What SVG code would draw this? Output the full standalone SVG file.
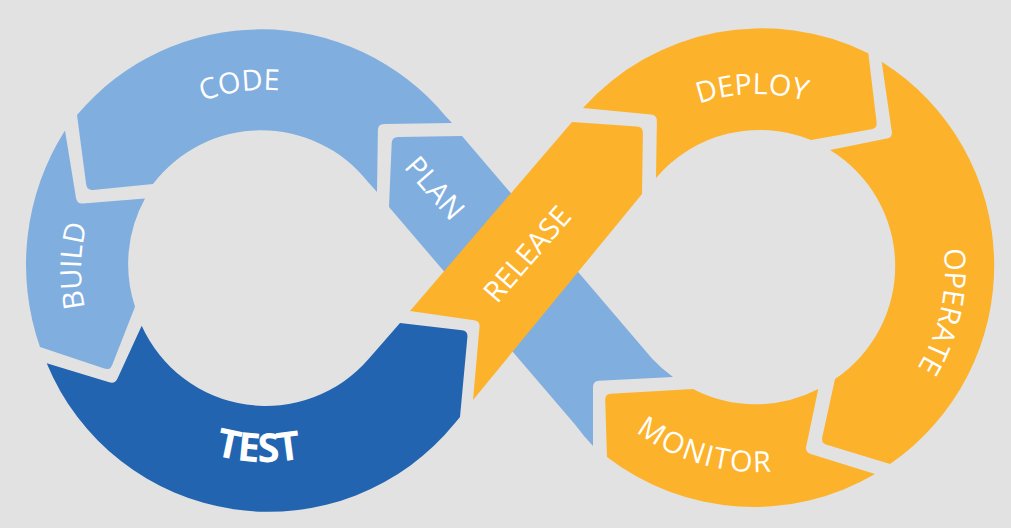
<svg xmlns="http://www.w3.org/2000/svg" width="1011" height="528" viewBox="0 0 1011 528">
<style>
.lb{fill:#80AEDF}
.db{fill:#2264B0}
.or{fill:#FDB22B}
.lbl{font-family:'Open Sans','DejaVu Sans',sans-serif;font-size:29px;fill:#ffffff}
.big{font-family:'Open Sans','DejaVu Sans',sans-serif;font-size:40px;font-weight:700;fill:#ffffff;letter-spacing:-1px}
</style>
<defs>
<path id="codeArc" d="M85,270 A180,180 0 0 1 445,270"/>
<path id="buildArc" d="M265,454 A184,184 0 0 1 265,86"/>
<path id="testArc" d="M73,270 A192,192 0 0 0 457,270"/>
<path id="deployArc" d="M581,270 A176,176 0 0 1 933,270"/>
<path id="operateArc" d="M757,82 A188,188 0 0 1 757,458"/>
<path id="monitorArc" d="M555,270 A202,202 0 0 0 959,270"/>
</defs>
<rect x="0" y="0" width="1011" height="528" fill="#E2E2E2"/>
<g id="plan">
<path class="lb" d="M389,207 L575,424.5 A240,240 0 0 0 593,446 L593,387 Q593,381 599,380.7 L673,377 A136,136 0 0 1 652,358.5 L462,136 L398,136.9 Q392,137 391.7,143 Z"/>
<text class="lbl" transform="translate(435,188) rotate(49)" text-anchor="middle" y="10.4">PLAN</text>
</g>
<g id="code">
<path class="lb" d="M452,123 L445,115.5 A240,240 0 0 0 77,115 L86.2,184.5 Q87,190.5 93,189.9 L153,184 A136,136 0 0 1 368,182 L377,192 L377.9,130 Q378,124 384,123.9 Z"/>
<text class="lbl" text-anchor="middle"><textPath href="#codeArc" startOffset="258">CODE</textPath></text>
</g>
<g id="build">
<path class="lb" d="M65,130.5 A250,250 0 0 0 40,347 L104.3,368.6 Q110,370.5 112.2,364.9 L135,306.7 A136,136 0 0 1 145,198.5 L83,203.5 Q77,204 76,198 Z"/>
<text class="lbl" text-anchor="middle"><textPath href="#buildArc" startOffset="293">BUILD</textPath></text>
</g>
<g id="test">
<path class="db" d="M46.7,363.3 A240,240 0 0 0 455,423 L460,417 L467.4,337 Q468,331 462,330.3 L400,323 L369,358.5 A136,136 0 0 1 141.7,325.7 L117.5,378.5 Q115,384 109.3,382.3 Z"/>
<text class="big" text-anchor="middle"><textPath href="#testArc" startOffset="294">TEST</textPath></text>
</g>
<g id="release">
<path class="or" d="M410,311 L572,122 L637,126.6 Q643,127 642.9,133 L642,194 L473,400 L479.5,327 Q480,321 474.1,320.2 Z"/>
<text class="lbl" transform="translate(527,254) rotate(-49)" text-anchor="middle" y="10.4">RELEASE</text>
</g>
<g id="deploy">
<path class="or" d="M583,108 A240,240 0 0 1 868.3,53.3 L876.6,122.3 Q877.3,128.3 871.4,129.3 L811,140 A136,136 0 0 0 656,178 L656.9,121 Q657,115 651,114.4 Z"/>
<text class="lbl" text-anchor="middle"><textPath href="#deployArc" startOffset="271.6">DEPLOY</textPath></text>
</g>
<g id="operate">
<path class="or" d="M881.7,61.7 A241,241 0 0 1 890,464 L826.7,444.7 Q821,443 822.3,437.1 L835,379 A136,136 0 0 0 830,150 L886.8,138.5 Q892.7,137.3 891.8,131.4 Z"/>
<text class="lbl" text-anchor="middle"><textPath href="#operateArc" startOffset="336">OPERATE</textPath></text>
</g>
<g id="monitor">
<path class="or" d="M875,474 A240,240 0 0 1 607,457 L605.2,400 Q605,394 611,393.7 L693,389 A136,136 0 0 0 818.3,389 L806.2,446.4 Q805,452.3 810.7,454.1 Z"/>
<text class="lbl" text-anchor="middle" letter-spacing="1.5"><textPath href="#monitorArc" startOffset="260">MONITOR</textPath></text>
</g>
</svg>
